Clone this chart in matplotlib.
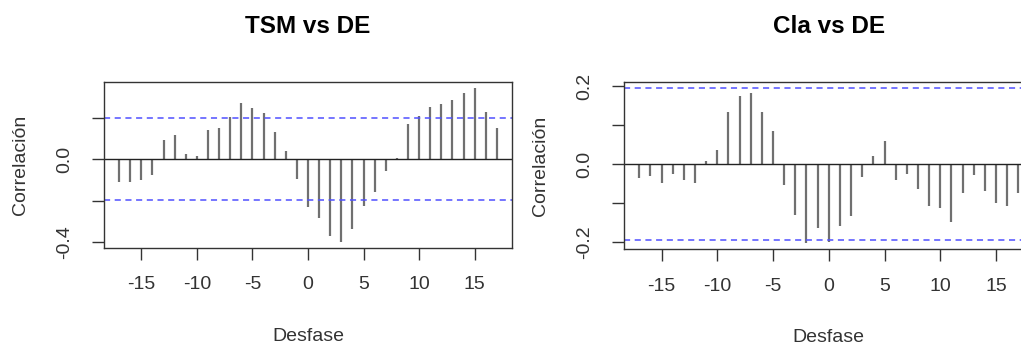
import numpy as np
import matplotlib
matplotlib.use("Agg")
import matplotlib.pyplot as plt

plt.rcParams['font.family'] = ['Liberation Sans', 'DejaVu Sans']

# lags shared by both cross-correlation plots
lags = list(range(-17, 18))

# TSM vs DE
ccf_tsm = [-0.108, -0.108, -0.100, -0.076, 0.092, 0.116, 0.025, 0.017, 0.141, 0.148,
           0.202, 0.270, 0.246, 0.222, 0.130, 0.038, -0.095,
           -0.230,
           -0.281, -0.370, -0.397, -0.337, -0.225, -0.159, -0.059, 0.008, 0.167,
           0.206, 0.251, 0.263, 0.283, 0.317, 0.341, 0.225, 0.152]

# Cla vs DE
ccf_cla = [-0.035, -0.030, -0.048, -0.025, -0.042, -0.048, 0.007, 0.037, 0.134, 0.176,
           0.182, 0.135, 0.085, -0.054, -0.130, -0.203, -0.164,
           -0.201,
           -0.160, -0.134, -0.034, 0.020, 0.059, -0.041, -0.025, -0.064, -0.108,
           -0.114, -0.149, -0.075, -0.029, -0.068, -0.101, -0.108, -0.075]

clim = 0.196  # approx 2/sqrt(n)

x_ticks = [-15, -10, -5, 0, 5, 10, 15]
tsm_yticks = [-0.4, -0.2, 0.0, 0.2]
tsm_ylabels = ['-0.4', '', '0.0', '']
cla_yticks = [-0.2, -0.1, 0.0, 0.1, 0.2]
cla_ylabels = ['-0.2', '', '0.0', '', '0.2']


def ccf_panel(ax, vals, title, yticks, ylabels):
    ax.vlines(lags, 0, vals, color='#707070', lw=1.6)
    ax.axhline(0, color='#222222', lw=1.0)
    ax.axhline(clim, color='#5050ff', lw=1.1, ls=(0, (4, 3)))
    ax.axhline(-clim, color='#5050ff', lw=1.1, ls=(0, (4, 3)))
    lo = min(min(vals), -clim)
    hi = max(max(vals), clim)
    pad = (hi - lo) * 0.04
    ax.set_ylim(lo - pad, hi + pad)
    ax.set_xlim(-17 - 34 * 0.04, 17 + 34 * 0.04)
    ax.set_xticks(x_ticks)
    ax.set_xticklabels([str(t) for t in x_ticks])
    ax.set_yticks(yticks)
    ax.set_yticklabels(ylabels)
    ax.tick_params(axis='both', length=8.5, width=1, color='#333333',
                   labelsize=14, labelcolor='#333333')
    ax.tick_params(axis='x', pad=12)
    ax.tick_params(axis='y', pad=14, labelrotation=90)
    for lbl in ax.get_yticklabels():
        lbl.set_va('center')
    for sp in ax.spines.values():
        sp.set_color('#333333')
        sp.set_linewidth(1.0)
    ax.set_xlabel('Desfase', fontsize=14, color='#333333', labelpad=25)
    ax.set_ylabel('Correlación', fontsize=14, color='#333333', labelpad=19)
    ax.set_title(title, fontsize=17.5, fontweight='bold', pad=35)


fig = plt.figure(figsize=(10.21, 3.47), dpi=100)
ax1 = fig.add_axes([0.1019, 0.2853, 0.3996, 0.4784])
ax2 = fig.add_axes([0.6112, 0.2816, 0.4011, 0.4830])

ccf_panel(ax1, ccf_tsm, 'TSM vs DE', tsm_yticks, tsm_ylabels)
ccf_panel(ax2, ccf_cla, 'Cla vs DE', cla_yticks, cla_ylabels)

fig.savefig('out.png', dpi=100)
